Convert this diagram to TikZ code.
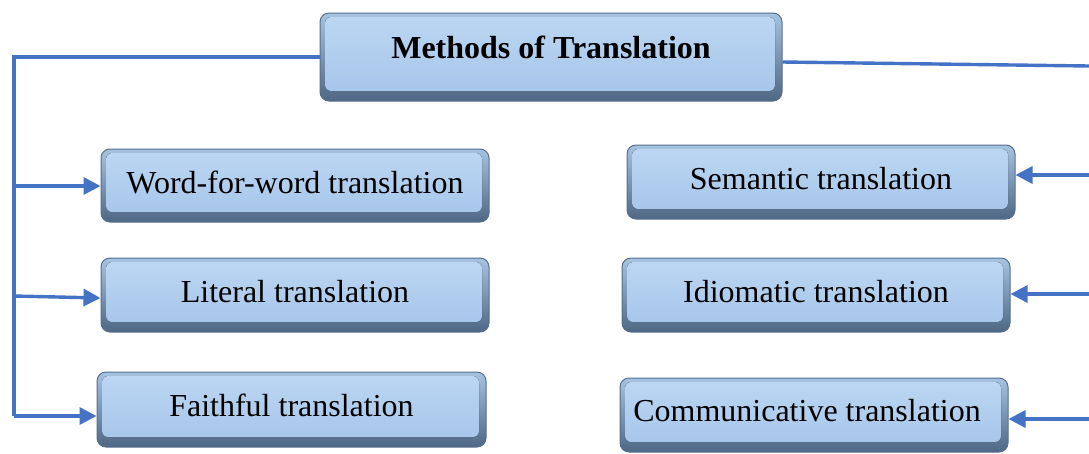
\documentclass[tikz,border=0pt]{standalone}
\usepackage{fontspec}
\setmainfont{Liberation Serif}
\usetikzlibrary{arrows.meta}
\definecolor{linkblue}{HTML}{4472C4}
\definecolor{boxedge}{HTML}{55708F}
\definecolor{bevtop}{HTML}{A7C3E2}
\definecolor{bevbot}{HTML}{4E6785}
\definecolor{innertop}{HTML}{BDD7F3}
\definecolor{innerbot}{HTML}{A4C4E9}
\tikzset{
  box/.style={rounded corners=9pt, draw=boxedge, line width=1pt,
    top color=bevtop, bottom color=bevbot, inner sep=0pt, align=center,
    font=\fontsize{32}{36}\selectfont,
    path picture={\fill[rounded corners=6pt, top color=innertop, bottom color=innerbot]
      ([shift={(5pt,-4pt)}]path picture bounding box.north west) rectangle
      ([shift={(-7pt,10pt)}]path picture bounding box.south east);}},
  link/.style={draw=linkblue, line width=3.4pt},
  arr/.style={link, -{Triangle[length=17pt,width=17pt]}, shorten >=0pt}
}
\begin{document}
\begin{tikzpicture}[x=1pt,y=-1pt]
\useasboundingbox (0,0) rectangle (1089,453);
% boxes
\node[box, minimum width=462, minimum height=88, font=\bfseries\fontsize{32}{36}\selectfont] (top) at (551,57) {\raisebox{19pt}{Methods of Translation}};
\node[box, minimum width=388, minimum height=73] (w) at (295,185.5) {\raisebox{7pt}{Word-for-word translation}};
\node[box, minimum width=388, minimum height=74] (l) at (295,295) {\raisebox{8pt}{Literal translation}};
\node[box, minimum width=389, minimum height=75] (f) at (291.5,409.5) {\raisebox{8pt}{Faithful translation}};
\node[box, minimum width=388, minimum height=74] (s) at (821,182) {\raisebox{8pt}{Semantic translation}};
\node[box, minimum width=388, minimum height=74] (i) at (816,295) {\raisebox{8pt}{Idiomatic translation}};
\node[box, minimum width=388, minimum height=74] (c) at (814,415) {\hspace*{-14pt}\raisebox{9pt}{Communicative translation}};
% left connectors
\coordinate (lt) at (14,57);
\coordinate (lb) at (14,416);
\coordinate (l1) at (14,186);
\coordinate (l2) at (14,296);
\draw[link] (top.west) -- (lt) -- (lb);
\draw[arr] (l1) -- (w.west |- l1);
\draw[arr] (l2) -- (l.west |- 0,298);
\draw[arr] (lb) -- (f.west |- lb);
% right connectors
\coordinate (rt) at (1089,66);
\coordinate (r1) at (1089,175);
\coordinate (r2) at (1089,294);
\coordinate (r3) at (1089,419);
\draw[link] (top.east |- 0,62) -- (rt);
\draw[arr] (r1) -- (s.east |- r1);
\draw[arr] (r2) -- (i.east |- r2);
\draw[arr] (r3) -- (c.east |- r3);
\end{tikzpicture}
\end{document}
